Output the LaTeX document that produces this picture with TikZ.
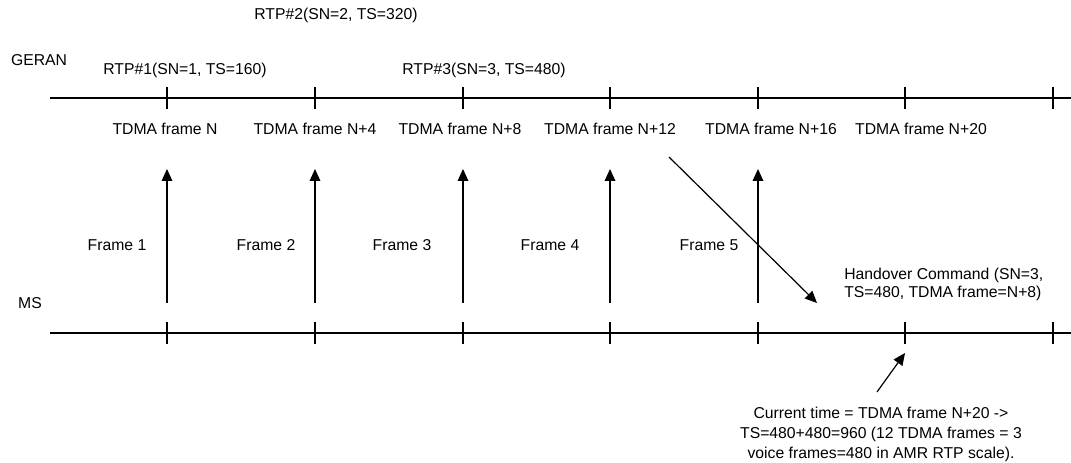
\documentclass[tikz,border=0pt]{standalone}
\usepackage{fontspec}
\setmainfont{Liberation Sans}
\usetikzlibrary{arrows.meta}

\begin{document}
\begin{tikzpicture}[x=0.75pt,y=-0.75pt,
  lbl/.style={inner sep=0pt,font=\fontsize{11.8}{15}\selectfont,align=center},
  axis/.style={line width=0.9pt},
  tk/.style={line width=0.8pt},
  msg/.style={-{Triangle[length=9pt,width=8pt]},line width=0.9pt},
  frm/.style={msg,shorten <=22.5pt,shorten >=53.25pt}
]
\useasboundingbox (0,0) rectangle (1071,463);
\coordinate (gs) at (50,98);  \coordinate (ge) at (1071,98);
\coordinate (ms) at (50,333); \coordinate (me) at (1071,333);
\coordinate (g1) at (167,98); \coordinate (g2) at (315,98); \coordinate (g3) at (463,98); \coordinate (g4) at (610,98);
\coordinate (g5) at (758,98); \coordinate (g6) at (905,98); \coordinate (g7) at (1053,98);
\coordinate (m1) at (167,333); \coordinate (m2) at (315,333); \coordinate (m3) at (463,333); \coordinate (m4) at (610,333);
\coordinate (m5) at (758,333); \coordinate (m6) at (905,333); \coordinate (m7) at (1053,333);
\draw[axis] (gs) -- (ge); \draw[axis] (ms) -- (me);
\draw[tk] (g1) ++(0,-11) -- ++(0,22); \draw[tk] (g2) ++(0,-11) -- ++(0,22); \draw[tk] (g3) ++(0,-11) -- ++(0,22);
\draw[tk] (g4) ++(0,-11) -- ++(0,22); \draw[tk] (g5) ++(0,-11) -- ++(0,22); \draw[tk] (g6) ++(0,-11) -- ++(0,22);
\draw[tk] (g7) ++(0,-11) -- ++(0,22);
\draw[tk] (m1) ++(0,-11) -- ++(0,22); \draw[tk] (m2) ++(0,-11) -- ++(0,22); \draw[tk] (m3) ++(0,-11) -- ++(0,22);
\draw[tk] (m4) ++(0,-11) -- ++(0,22); \draw[tk] (m5) ++(0,-11) -- ++(0,22); \draw[tk] (m6) ++(0,-11) -- ++(0,22);
\draw[tk] (m7) ++(0,-11) -- ++(0,22);
\node[lbl] (geran) at (39,60)  {GERAN};
\node[lbl] (mslbl) at (30,303) {MS};
\node[lbl] (rtp2) at (336,15) {RTP\#2(SN=2, TS=320)};
\node[lbl] (rtp1) at (185,70) {RTP\#1(SN=1, TS=160)};
\node[lbl] (rtp3) at (484,70) {RTP\#3(SN=3, TS=480)};
\node[lbl] (n0)  at (165,129) {TDMA frame N};
\node[lbl] (n4)  at (315,129) {TDMA frame N+4};
\node[lbl] (n8)  at (460,129) {TDMA frame N+8};
\node[lbl] (n12) at (610,129) {TDMA frame N+12};
\node[lbl] (n16) at (771,129) {TDMA frame N+16};
\node[lbl] (n20) at (921,129) {TDMA frame N+20};
\node[lbl] (fr1) at (117,245) {Frame 1};
\node[lbl] (fr2) at (266,245) {Frame 2};
\node[lbl] (fr3) at (402,245) {Frame 3};
\node[lbl] (fr4) at (550,245) {Frame 4};
\node[lbl] (fr5) at (709,245) {Frame 5};
\node[lbl,align=left,anchor=west,font=\fontsize{11.8}{13.5}\selectfont] (ho) at (844,284) {Handover Command (SN=3,\\TS=480, TDMA frame=N+8)};
\node[lbl] (cur) at (881,434) {Current time = TDMA frame N+20 ->\\TS=480+480=960 (12 TDMA frames = 3\\voice frames=480 in AMR RTP scale).};
\coordinate (hc0) at (669,157); \coordinate (hc1) at (817,303);
\coordinate (ct0) at (877,392); \coordinate (ct1) at (905,353);
\draw[frm] (m1) -- (g1); \draw[frm] (m2) -- (g2); \draw[frm] (m3) -- (g3);
\draw[frm] (m4) -- (g4); \draw[frm] (m5) -- (g5);
\draw[msg] (hc0) -- (hc1);
\draw[msg] (ct0) -- (ct1);
\end{tikzpicture}
\end{document}
